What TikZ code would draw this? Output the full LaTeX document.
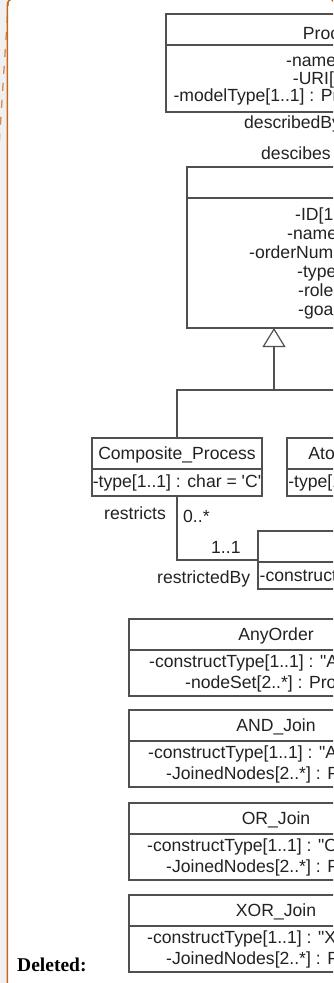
\documentclass[tikz,border=0pt]{standalone}
\usepackage{fontspec}
\newfontfamily\umlfont{Liberation Sans}
\newfontfamily\notefont{Liberation Serif}
\usetikzlibrary{arrows.meta}
\definecolor{umlline}{HTML}{505050}
\definecolor{umltext}{HTML}{222222}
\definecolor{margingray}{HTML}{F0F0F0}
\definecolor{revorange}{HTML}{C8641E}

\begin{document}
\begin{tikzpicture}[x=1pt,y=-1pt,
  umlbox/.style={draw=umlline, line width=1.2pt, fill=white, anchor=north west,
                 inner sep=0pt, outer sep=0pt},
  umltxt/.style={font=\umlfont\fontsize{17.6}{20}\selectfont, text=umltext, inner sep=0pt},
  attr/.style={umltxt, anchor=base west},
  ctitle/.style={umltxt, anchor=base},
  assoc/.style={draw=umlline, line width=1.2pt},
  divider/.style={draw=umlline, line width=1.2pt},
]
\useasboundingbox (0,0) rectangle (333,983);
\clip (0,0) rectangle (333,983);

% margin strip and revision balloon outline
\fill[margingray] (0,0) rectangle (7.3,983);
\draw[revorange!75, line width=1.3pt, dash pattern=on 8pt off 9pt] (8.6,-2) -- (-1.2,150);
\draw[revorange, line width=1.4pt, rounded corners=6pt] (7.3,1000) |- (334.6,-1.2) -- (334.6,1000);

% ---------- Process model ----------
\node[umlbox, minimum width=320pt, minimum height=98pt] (proc) at (166,14) {};
\draw[divider] ([yshift=-31pt]proc.north west) -- ([yshift=-31pt]proc.north east);
\node[attr] (procT) at (302.7,39.5) {Process\_Model};
\node[attr] (procA1) at (286,66) {-name[1..1] : String};
\node[attr] (procA2) at (292.7,84) {-URI[1..1] : String};
\node[attr] (procA3) at (173.3,101.5) {-modelType[1..1] : ProcessModelType};

\node[attr] (lblDescBy) at (244,128.5) {describedBy};
\node[attr] (lblDesc) at (261,159.5) {descibes};

% ---------- Process element ----------
\node[umlbox, minimum width=280pt, minimum height=161pt] (elem) at (187,167) {};
\draw[divider] ([yshift=-31pt]elem.north west) -- ([yshift=-31pt]elem.north east);
\node[attr] (elA1) at (295,220.5) {-ID[1..1] : int};
\node[attr] (elA2) at (287,239.5) {-name[1..1] : String};
\node[attr] (elA3) at (249,258.5) {-orderNumber[1..1] : int};
\node[attr] (elA4) at (297,277.5) {-type[1..1] : char};
\node[attr] (elA5) at (298,296.5) {-role[0..*] : String};
\node[attr] (elA6) at (298,315.5) {-goal[0..*] : String};

% ---------- subclasses ----------
\node[umlbox, minimum width=170pt, minimum height=58pt] (comp) at (92,438) {};
\draw[divider] ([yshift=-31pt]comp.north west) -- ([yshift=-31pt]comp.north east);
\node[ctitle] (compT) at (177,459.3) {Composite\_Process};
\node[ctitle] (compA) at (177,487.5) {-type[1..1] : char = 'C'};

\node[umlbox, minimum width=170pt, minimum height=58pt] (atomic) at (287,438) {};
\draw[divider] ([yshift=-31pt]atomic.north west) -- ([yshift=-31pt]atomic.north east);
\node[ctitle] (atomT) at (372,459.3) {Atomic\_Process};
\node[ctitle] (atomA) at (372,487.5) {-type[1..1] : char = 'A'};

% generalization
\coordinate (jn) at (274,390);
\draw[assoc, -{Triangle[open, length=19pt, width=23pt, line width=1.2pt]}] (jn) -- (jn |- elem.south);
\draw[assoc] (comp.north) |- (jn) -| (atomic.north);

% ---------- process construct ----------
\node[umlbox, minimum width=200pt, minimum height=58pt] (constr) at (258,531) {};
\draw[divider] ([yshift=-31pt]constr.north west) -- ([yshift=-31pt]constr.north east);
\node[attr] (constrA) at (259.5,581.5) {-constructType[1..1] : char};

\draw[assoc] (comp.south) |- (constr.west);
\node[attr] (lblRestricts) at (104,519.5) {restricts};
\node[attr] (lblMany) at (183,522) {0..*};
\node[attr] (lblOne) at (211,553) {1..1};
\node[attr] (lblRestrictedBy) at (157,583) {restrictedBy};

% ---------- construct kinds ----------
\foreach \nm/\top/\ttl/\ax/\aa/\bx/\bb in {
  anyorder/619/AnyOrder/149/{-constructType[1..1] : "AnyOrder"}/185/{-nodeSet[2..*] : Process\_Element},
  andjoin/710/AND\_Join/148/{-constructType[1..1] : "AND\_Join"}/166/{-JoinedNodes[2..*] : Process\_Element},
  orjoin/803/OR\_Join/147/{-constructType[1..1] : "OR\_Join"}/166/{-JoinedNodes[2..*] : Process\_Element},
  xorjoin/895/XOR\_Join/147/{-constructType[1..1] : "XOR\_Join"}/166/{-JoinedNodes[2..*] : Process\_Element}}
{
  \node[umlbox, minimum width=294pt, minimum height=77pt] (\nm) at (129,\top) {};
  \draw[divider] ([yshift=-31pt]\nm.north west) -- ([yshift=-31pt]\nm.north east);
  \node[ctitle] (\nm T) at (276,\top+21.3) {\ttl};
  \node[attr] (\nm A) at (\ax,\top+48) {\aa};
  \node[attr] (\nm B) at (\bx,\top+69) {\bb};
}

% balloon label
\node[anchor=base west, inner sep=0pt, font=\notefont\bfseries\fontsize{19.5}{22}\selectfont] (deleted) at (17,971) {Deleted:};
\end{tikzpicture}
\end{document}
